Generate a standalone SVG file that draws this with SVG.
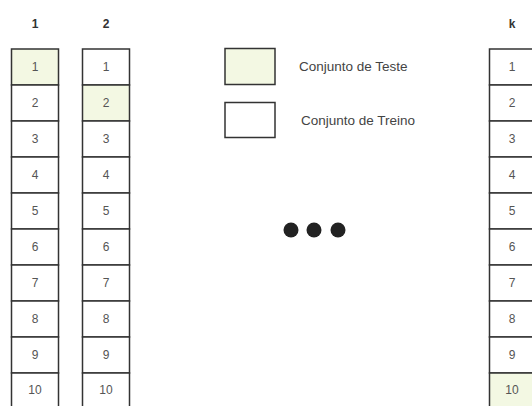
<svg xmlns="http://www.w3.org/2000/svg" width="532" height="406" viewBox="0 0 532 406">
<style>
.c{fill:#fff;stroke:#333;stroke-width:1.5}
.t{fill:#f3f8e3}
.n{font-family:"Liberation Sans",Arial,sans-serif;font-size:12px;fill:#555;text-anchor:middle}
.h{font-family:"Liberation Sans",Arial,sans-serif;font-size:12px;font-weight:bold;fill:#333;text-anchor:middle}
.l{font-family:"Liberation Sans",Arial,sans-serif;font-size:13.5px;fill:#444}
</style>
<rect width="532" height="406" fill="#fff"/>
<g id="col1">
<text class="h" x="35" y="28">1</text>
<rect class="c t" x="11.5" y="49" width="47" height="36"/><text class="n" x="35" y="71">1</text>
<rect class="c" x="11.5" y="85" width="47" height="36"/><text class="n" x="35" y="107">2</text>
<rect class="c" x="11.5" y="121" width="47" height="36"/><text class="n" x="35" y="143">3</text>
<rect class="c" x="11.5" y="157" width="47" height="36"/><text class="n" x="35" y="179">4</text>
<rect class="c" x="11.5" y="193" width="47" height="36"/><text class="n" x="35" y="215">5</text>
<rect class="c" x="11.5" y="229" width="47" height="36"/><text class="n" x="35" y="251">6</text>
<rect class="c" x="11.5" y="265" width="47" height="36"/><text class="n" x="35" y="287">7</text>
<rect class="c" x="11.5" y="301" width="47" height="36"/><text class="n" x="35" y="323">8</text>
<rect class="c" x="11.5" y="337" width="47" height="36"/><text class="n" x="35" y="359">9</text>
<rect class="c" x="11.5" y="373" width="47" height="36"/><text class="n" x="35" y="394">10</text>
</g>
<g id="col2">
<text class="h" x="106" y="28">2</text>
<rect class="c" x="82.5" y="49" width="47" height="36"/><text class="n" x="106" y="71">1</text>
<rect class="c t" x="82.5" y="85" width="47" height="36"/><text class="n" x="106" y="107">2</text>
<rect class="c" x="82.5" y="121" width="47" height="36"/><text class="n" x="106" y="143">3</text>
<rect class="c" x="82.5" y="157" width="47" height="36"/><text class="n" x="106" y="179">4</text>
<rect class="c" x="82.5" y="193" width="47" height="36"/><text class="n" x="106" y="215">5</text>
<rect class="c" x="82.5" y="229" width="47" height="36"/><text class="n" x="106" y="251">6</text>
<rect class="c" x="82.5" y="265" width="47" height="36"/><text class="n" x="106" y="287">7</text>
<rect class="c" x="82.5" y="301" width="47" height="36"/><text class="n" x="106" y="323">8</text>
<rect class="c" x="82.5" y="337" width="47" height="36"/><text class="n" x="106" y="359">9</text>
<rect class="c" x="82.5" y="373" width="47" height="36"/><text class="n" x="106" y="394">10</text>
</g>
<g id="colk">
<text class="h" x="512" y="28">k</text>
<rect class="c" x="489.5" y="49" width="47" height="36"/><text class="n" x="512" y="71">1</text>
<rect class="c" x="489.5" y="85" width="47" height="36"/><text class="n" x="512" y="107">2</text>
<rect class="c" x="489.5" y="121" width="47" height="36"/><text class="n" x="512" y="143">3</text>
<rect class="c" x="489.5" y="157" width="47" height="36"/><text class="n" x="512" y="179">4</text>
<rect class="c" x="489.5" y="193" width="47" height="36"/><text class="n" x="512" y="215">5</text>
<rect class="c" x="489.5" y="229" width="47" height="36"/><text class="n" x="512" y="251">6</text>
<rect class="c" x="489.5" y="265" width="47" height="36"/><text class="n" x="512" y="287">7</text>
<rect class="c" x="489.5" y="301" width="47" height="36"/><text class="n" x="512" y="323">8</text>
<rect class="c" x="489.5" y="337" width="47" height="36"/><text class="n" x="512" y="359">9</text>
<rect class="c t" x="489.5" y="373" width="47" height="36"/><text class="n" x="512" y="394">10</text>
</g>
<g id="legend-teste">
<rect class="c t" x="225" y="48.5" width="50" height="36"/>
<text class="l" x="299" y="71">Conjunto de Teste</text>
</g>
<g id="legend-treino">
<rect class="c" x="225" y="102.5" width="50" height="35"/>
<text class="l" x="301" y="125">Conjunto de Treino</text>
</g>
<g id="ellipsis" fill="#222">
<circle cx="291" cy="230" r="7.5"/>
<circle cx="314" cy="230" r="7.5"/>
<circle cx="338" cy="230" r="7.5"/>
</g>
<g id="connectors"/>
</svg>
